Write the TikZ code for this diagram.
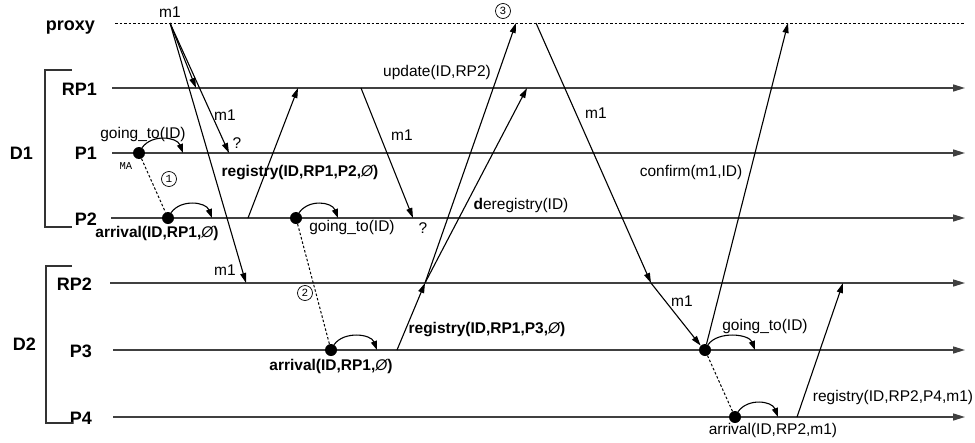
\documentclass[tikz,border=0pt]{standalone}
\usepackage{fontspec}
\setmainfont{Liberation Sans}
\newfontfamily\monofont{Liberation Mono}
\usetikzlibrary{arrows.meta}

\newcommand{\nullset}{{\mdseries\itshape Ø}}

\tikzset{
  lane/.style={line width=1.5pt, draw=black!75, -{Triangle[length=12pt,width=7pt]}},
  proxyline/.style={line width=1pt, dash pattern=on 2.5pt off 2pt},
  msg/.style={line width=1.1pt, -{Triangle[length=10pt,width=6pt]}},
  hop/.style={line width=1pt, dash pattern=on 2.5pt off 2pt},
  turn/.style={line width=1.1pt, -{Triangle[length=9pt,width=6pt]}},
  agent/.style={circle, fill=black, inner sep=0pt, minimum size=12pt},
  lanename/.style={font=\fontsize{18}{20}\selectfont\bfseries, anchor=base east, inner sep=0pt},
  lbl/.style={font=\fontsize{15.5}{18}\selectfont, inner sep=0pt},
  blbl/.style={font=\fontsize{15.5}{18}\selectfont\bfseries, inner sep=0pt},
  stage/.style={circle, draw, line width=0.7pt, inner sep=0pt, minimum size=15pt,
                font=\monofont\fontsize{11}{11}\selectfont},
  bracket/.style={line width=1.3pt, draw=black!80},
}

\begin{document}
\begin{tikzpicture}[x=1pt,y=-1pt]
\useasboundingbox (0,0) rectangle (975,442);

% ---- lifelines ----
\coordinate (proxyS) at (115,23);  \coordinate (proxyE) at (965,23);
\coordinate (rp1S) at (112,88);    \coordinate (rp1E) at (965,88);
\coordinate (p1S) at (112,153);    \coordinate (p1E) at (965,153);
\coordinate (p2S) at (111,218);    \coordinate (p2E) at (965,218);
\coordinate (rp2S) at (110,283);   \coordinate (rp2E) at (965,283);
\coordinate (p3S) at (113,350);    \coordinate (p3E) at (965,350);
\coordinate (p4S) at (113,417);    \coordinate (p4E) at (965,417);

\draw[proxyline] (proxyS) -- (proxyE);
\draw[lane] (rp1S) -- (rp1E);
\draw[lane] (p1S) -- (p1E);
\draw[lane] (p2S) -- (p2E);
\draw[lane] (rp2S) -- (rp2E);
\draw[lane] (p3S) -- (p3E);
\draw[lane] (p4S) -- (p4E);

\node[lanename] (nproxy) at (95,30) {proxy};
\node[lanename] (nrp1) at (97,95) {RP1};
\node[lanename] (np1) at (97,159) {P1};
\node[lanename] (np2) at (97,225) {P2};
\node[lanename] (nrp2) at (92,290) {RP2};
\node[lanename] (np3) at (92,357) {P3};
\node[lanename] (np4) at (92,424) {P4};

% ---- domains ----
\draw[bracket] (72,70) -- (45,70) -- (45,227) -- (72,227);
\draw[bracket] (72,266) -- (46,266) -- (46,423) -- (73,423);
\node[lanename] (nd1) at (33,159) {D1};
\node[lanename] (nd2) at (36,350) {D2};

% ---- mobile agent positions ----
\node[agent] (a1) at (139,153) {};
\node[agent] (a2) at (168,218) {};
\node[agent] (a3) at (296,218) {};
\node[agent] (a4) at (331,350) {};
\node[agent] (a5) at (705,350) {};
\node[agent] (a6) at (735,417) {};

% migrations
\draw[hop] (a1) -- (a2);
\draw[hop] (a3) -- (a4);
\draw[hop] (a5) -- (a6);

% local events after each arrival / before each departure
\coordinate (t1) at (183,153);
\coordinate (t2) at (212,218);
\coordinate (t3) at (338,218);
\coordinate (t4) at (377,350);
\coordinate (t5) at (755,350);
\coordinate (t6) at (778,417);
\draw[turn] (a1.60) .. controls +(10,-14) and +(-6,-16) .. (t1);
\draw[turn] (a2.60) .. controls +(10,-14) and +(-6,-16) .. (t2);
\draw[turn] (a3.60) .. controls +(10,-14) and +(-6,-16) .. (t3);
\draw[turn] (a4.60) .. controls +(10,-14) and +(-6,-16) .. (t4);
\draw[turn] (a5.60) .. controls +(10,-14) and +(-6,-16) .. (t5);
\draw[turn] (a6.60) .. controls +(10,-14) and +(-6,-16) .. (t6);

% ---- messages ----
\coordinate (m1src) at (170,23);
\coordinate (m1rp1) at (196,88);
\coordinate (m1p1) at (229,153);
\coordinate (m1rp2) at (246,283);
\draw[msg] (m1src) -- (m1rp1);
\draw[msg] (m1src) -- (m1p1);
\draw[msg] (m1src) -- (m1rp2);

\coordinate (regA) at (248,218);
\coordinate (regAend) at (298,88);
\draw[msg] (regA) -- (regAend);

\coordinate (fwdA) at (361,88);
\coordinate (fwdAend) at (413,218);
\draw[msg] (fwdA) -- (fwdAend);

\coordinate (regB) at (397,350);
\coordinate (regBend) at (425,283);
\draw[msg] (regB) -- (regBend);

\coordinate (updEnd) at (516,23);
\coordinate (deregEnd) at (527,88);
\draw[msg] (regBend) -- (updEnd);
\draw[msg] (regBend) -- (deregEnd);

\coordinate (fwdB) at (536,23);
\coordinate (fwdBrp2) at (651,283);
\draw[msg] (fwdB) -- (fwdBrp2);
\draw[msg] (fwdBrp2) -- (a5.north west);

\coordinate (confEnd) at (788,23);
\draw[msg] (a5) -- (confEnd);

\coordinate (regC) at (797,417);
\coordinate (regCend) at (843,283);
\draw[msg] (regC) -- (regCend);

% ---- labels ----
\node[lbl] (lm1a) at (170,12) {m1};
\node[lbl] (lm1b) at (225,115) {m1};
\node[lbl] (lqa) at (237,143) {?};
\node[lbl] (lm1c) at (225,270) {m1};
\node[lbl] (lgo1) at (143,134) {going\_to(ID)};
\node[inner sep=0pt, font=\monofont\fontsize{10.5}{10.5}\selectfont] (lma) at (126,166) {MA};
\node[stage] (s1) at (169,179) {1};
\node[blbl] (larr1) at (157,233) {arrival(ID,RP1,\nullset)};
\node[blbl] (lreg1) at (300,173) {registry(ID,RP1,P2,\nullset)};
\node[lbl] (lm1d) at (402,135) {m1};
\node[lbl] (lupd) at (437,72) {update(ID,RP2)};
\node[lbl] (lgo2) at (352,227) {going\_to(ID)};
\node[lbl] (lqb) at (423,228) {?};
\node[lbl] (ldereg) at (521,205) {\textbf{d}eregistry(ID)};
\node[stage] (s3) at (503,11) {3};
\node[lbl] (lm1e) at (596,113) {m1};
\node[lbl] (lconf) at (691,172) {confirm(m1,ID)};
\node[stage] (s2) at (305,293) {2};
\node[blbl] (larr2) at (331,366) {arrival(ID,RP1,\nullset)};
\node[blbl] (lreg2) at (487,330) {registry(ID,RP1,P3,\nullset)};
\node[lbl] (lm1f) at (682,301) {m1};
\node[lbl] (lgo3) at (765,326) {going\_to(ID)};
\node[lbl] (lreg3) at (893,397) {registry(ID,RP2,P4,m1)};
\node[lbl] (larr3) at (773,430) {arrival(ID,RP2,m1)};
\end{tikzpicture}
\end{document}
